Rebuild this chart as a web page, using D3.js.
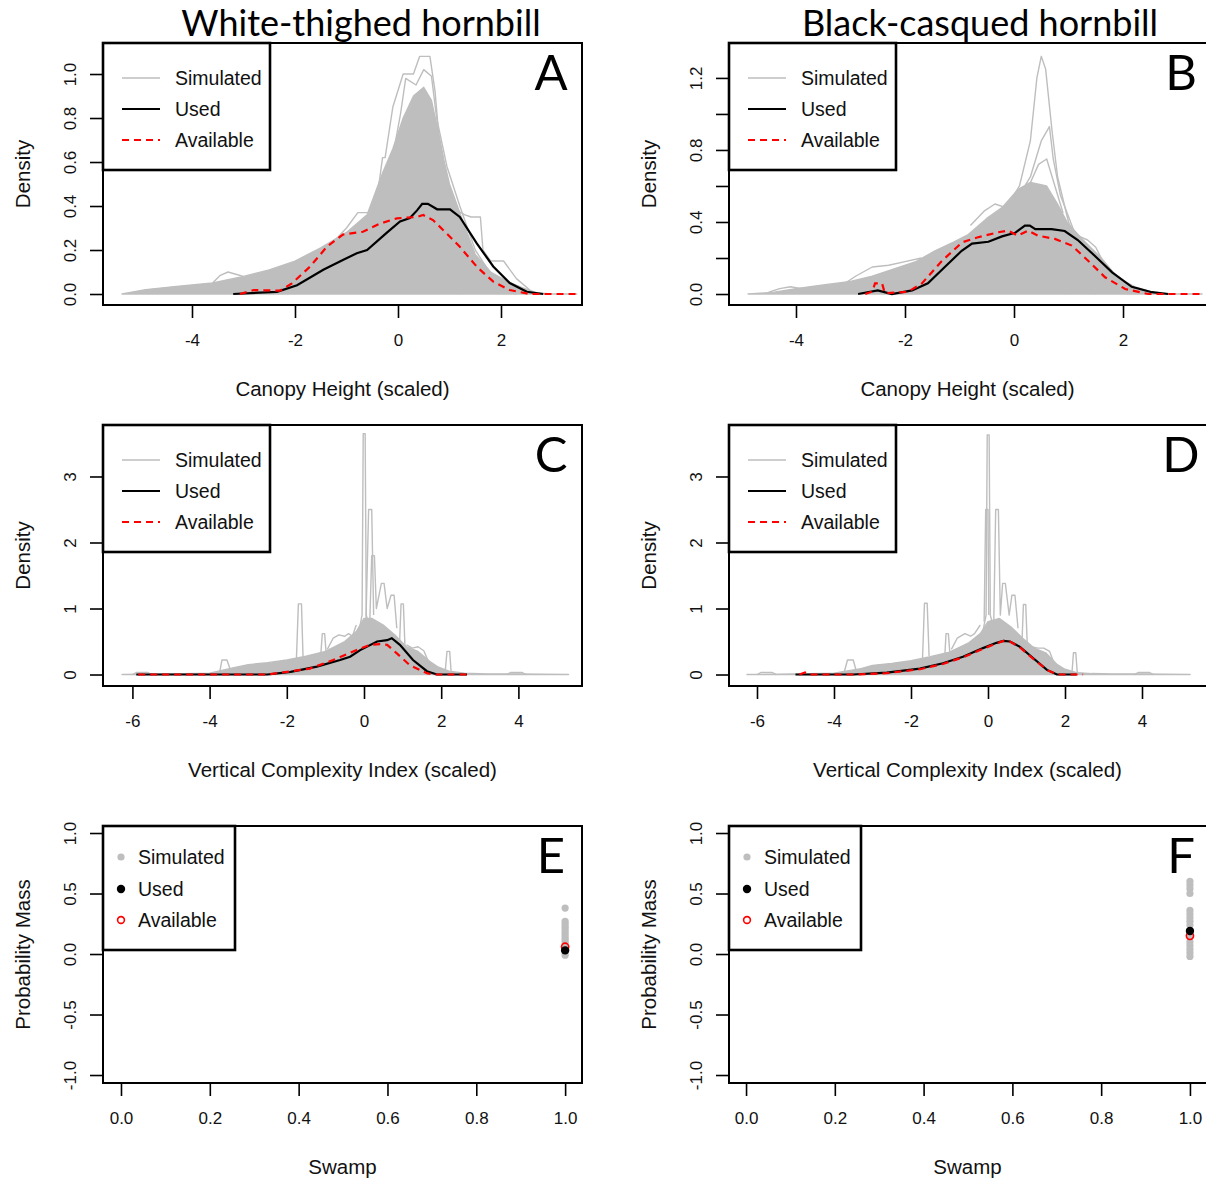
<!DOCTYPE html>
<html>
<head>
<meta charset="utf-8">
<script src="https://cdn.jsdelivr.net/npm/d3@7"></script>
<style>
  body { margin: 0; background: #fff; }
  text { font-family: "Liberation Sans", Arial, sans-serif; fill: #111; }
  .big { font-family: Lato, "Open Sans", sans-serif; fill: #000; }
</style>
</head>
<body>
<svg id="fig" width="1206" height="1181"></svg>
<script>
// ---- tick values ----
var canopyTicks = [-4, -2, 0, 2];
var vciTicks = [-6, -4, -2, 0, 2, 4];
var swampTicks = [0, 0.2, 0.4, 0.6, 0.8, 1.0];
var densWT_yTicks = [0, 0.2, 0.4, 0.6, 0.8, 1.0];
var densBC_yTicks = [0, 0.2, 0.4, 0.6, 0.8, 1.0, 1.2];
var densBC_yLabels = [0, 0.4, 0.8, 1.2];
var vciY_ticks = [0, 1, 2, 3];
var massTicks = [-1, -0.5, 0, 0.5, 1];

var speciesNames = ['White-thighed hornbill', 'Black-casqued hornbill'];
var legendNames = ['Simulated', 'Used', 'Available'];

// ---- A: canopy height, white-thighed ----
var canopyWT_simX  = [-5.36, -4.9, -4.3, -3.6, -3.0, -2.5, -2.0, -1.5, -1.0, -0.6, -0.3, -0.1, 0.1, 0.3, 0.5, 0.65, 0.8, 0.9, 1.0, 1.2, 1.5, 1.8, 2.1, 2.4, 2.7, 3.0, 3.47];
var canopyWT_simHi = [0, 0.02, 0.035, 0.05, 0.08, 0.11, 0.15, 0.21, 0.28, 0.36, 0.55, 0.66, 0.8, 0.9, 0.94, 0.88, 0.72, 0.6, 0.5, 0.37, 0.18, 0.1, 0.06, 0.03, 0.005, 0, 0];
var canopyWT_simLines = [
  [[-0.45,0.36],[-0.3,0.62],[-0.25,0.62],[-0.1,0.85],[0.1,1.0],[0.3,1.0],[0.42,1.08],[0.62,1.08],[0.72,0.92],[0.8,0.7],[0.9,0.55],[1.1,0.4],[1.3,0.25],[1.6,0.1],[1.9,0.03],[2.3,0]],
  [[-0.2,0.5],[0.05,0.82],[0.15,0.98],[0.35,0.95],[0.5,1.02],[0.65,0.99],[0.75,0.8],[0.95,0.58],[1.2,0.4],[1.5,0.2],[2.0,0.02]],
  [[-1.4,0.2],[-1.0,0.3],[-0.78,0.37],[-0.42,0.37],[-0.3,0.33],[0.0,0.3]],
  [[-3.6,0.05],[-3.45,0.085],[-3.3,0.1],[-3.15,0.09],[-3.0,0.08]],
  [[1.0,0.4],[1.3,0.36],[1.42,0.35],[1.6,0.35],[1.65,0.2],[1.8,0.15],[2.05,0.15],[2.3,0.07],[2.6,0.01]],
  [[0.55,0.3],[0.7,0.2],[0.9,0.08],[1.05,0.02],[1.2,0]]
];
var canopyWT_usedX = [-3.2, -2.35, -1.96, -1.45, -1.07, -0.8, -0.6, -0.21, 0.04, 0.23, 0.37, 0.47, 0.58, 0.76, 1.01, 1.2, 1.53, 1.85, 2.17, 2.5, 2.82];
var canopyWT_usedY = [0, 0.01, 0.04, 0.11, 0.155, 0.185, 0.2, 0.28, 0.33, 0.345, 0.38, 0.41, 0.41, 0.385, 0.385, 0.35, 0.23, 0.125, 0.05, 0.01, 0];
var canopyWT_availX = [-3.07, -2.8, -2.29, -2.06, -1.71, -1.38, -1.07, -0.68, -0.35, -0.02, 0.37, 0.49, 0.68, 0.88, 1.2, 1.53, 1.85, 2.17, 2.56, 3.47];
var canopyWT_availY = [0, 0.018, 0.015, 0.048, 0.124, 0.215, 0.27, 0.283, 0.32, 0.344, 0.35, 0.359, 0.336, 0.29, 0.215, 0.124, 0.056, 0.018, 0, 0];

// ---- B: canopy height, black-casqued ----
var canopyBC_simX  = [-4.88, -4.4, -4.0, -3.5, -3.0, -2.6, -2.2, -1.8, -1.45, -1.1, -0.84, -0.5, -0.22, 0.07, 0.3, 0.6, 0.8, 0.99, 1.3, 1.6, 1.91, 2.22, 2.6, 3.0, 3.45];
var canopyBC_simHi = [0, 0.01, 0.03, 0.05, 0.07, 0.1, 0.14, 0.18, 0.24, 0.29, 0.33, 0.42, 0.48, 0.58, 0.62, 0.6, 0.5, 0.39, 0.29, 0.2, 0.09, 0.04, 0.005, 0, 0];
var canopyBC_simLines = [
  [[-0.2,0.45],[0.1,0.6],[0.3,0.85],[0.42,1.2],[0.5,1.32],[0.58,1.25],[0.7,0.9],[0.8,0.65],[1.0,0.4],[1.3,0.2],[1.7,0.06],[2.1,0]],
  [[0.0,0.5],[0.3,0.65],[0.5,0.85],[0.65,0.93],[0.72,0.75],[0.85,0.55],[1.1,0.35]],
  [[0.2,0.55],[0.45,0.72],[0.6,0.75],[0.75,0.6],[0.9,0.45]],
  [[-0.8,0.38],[-0.55,0.46],[-0.35,0.5],[-0.15,0.48],[0.0,0.5]],
  [[-3.2,0.04],[-2.9,0.1],[-2.6,0.15],[-2.3,0.16],[-2.0,0.18],[-1.7,0.2]],
  [[-4.5,0.01],[-4.3,0.03],[-4.1,0.04],[-3.9,0.03],[-3.7,0.02]],
  [[1.0,0.38],[1.2,0.32],[1.35,0.3],[1.5,0.26],[1.7,0.14]],
  [[0.4,0.35],[0.6,0.25],[0.75,0.12],[0.85,0.02],[0.95,0]],
  [[0.7,0.3],[1.0,0.15],[1.3,0.05],[1.5,0]]
];
var canopyBC_usedX = [-2.86, -2.5, -2.24, -1.87, -1.58, -1.27, -0.96, -0.77, -0.47, -0.22, 0.02, 0.2, 0.29, 0.39, 0.69, 0.93, 1.17, 1.49, 1.8, 2.16, 2.53, 2.83];
var canopyBC_usedY = [0, 0.02, 0.0, 0.02, 0.06, 0.15, 0.24, 0.28, 0.29, 0.32, 0.34, 0.38, 0.38, 0.36, 0.36, 0.35, 0.3, 0.21, 0.12, 0.04, 0.01, 0];
var canopyBC_availX = [-2.73, -2.6, -2.55, -2.42, -2.37, -1.94, -1.69, -1.32, -0.95, -0.66, -0.29, -0.11, 0.07, 0.26, 0.44, 0.75, 1.06, 1.36, 1.67, 2.04, 2.46, 3.45];
var canopyBC_availY = [0, 0.013, 0.059, 0.059, 0.004, 0.013, 0.059, 0.185, 0.287, 0.315, 0.343, 0.352, 0.324, 0.352, 0.324, 0.306, 0.269, 0.185, 0.093, 0.028, 0, 0];

// ---- C: vertical complexity, white-thighed ----
var vciWT_simX  = [-6.27, -5.0, -4.0, -3.4, -3.0, -2.5, -2.0, -1.5, -1.0, -0.5, -0.2, 0.0, 0.2, 0.5, 0.8, 1.1, 1.4, 1.7, 1.9, 2.2, 2.6, 3.2, 4.0, 5.3];
var vciWT_simHi = [0, 0.01, 0.02, 0.1, 0.15, 0.18, 0.22, 0.28, 0.35, 0.5, 0.65, 0.85, 0.85, 0.75, 0.6, 0.42, 0.35, 0.2, 0.12, 0.05, 0.02, 0.01, 0.01, 0];
var vciWT_simLines = [
  [[-0.15,0.6],[-0.05,0.9],[-0.02,3.65],[0.03,3.65],[0.06,0.9],[0.15,0.7]],
  [[0.05,0.8],[0.12,2.5],[0.2,2.5],[0.25,0.9]],
  [[0.15,0.8],[0.2,1.8],[0.27,1.8],[0.32,1.0],[0.45,1.38],[0.52,1.38],[0.6,1.0],[0.7,1.2],[0.78,1.2],[0.85,0.7]],
  [[-1.75,0.25],[-1.7,1.07],[-1.62,1.07],[-1.58,0.28]],
  [[-1.12,0.3],[-1.08,0.62],[-1.02,0.62],[-0.98,0.32]],
  [[-0.95,0.38],[-0.8,0.55],[-0.65,0.6],[-0.5,0.58],[-0.4,0.62],[-0.3,0.58],[-0.2,0.75]],
  [[0.92,0.45],[0.96,1.07],[1.02,1.07],[1.06,0.45]],
  [[-3.75,0.0],[-3.68,0.22],[-3.55,0.22],[-3.45,0.05]],
  [[2.1,0.02],[2.15,0.35],[2.22,0.35],[2.26,0.02]],
  [[1.1,0.45],[1.25,0.4],[1.4,0.42],[1.55,0.36],[1.7,0.15]],
  [[3.7,0.0],[3.8,0.03],[4.1,0.03],[4.2,0.0]],
  [[-6.0,0.0],[-5.9,0.03],[-5.6,0.03],[-5.5,0.0]]
];
var vciWT_usedX = [-5.9, -2.5, -1.9, -1.22, -0.62, -0.36, -0.1, 0.34, 0.6, 0.72, 0.93, 1.27, 1.63, 1.89, 2.67];
var vciWT_usedY = [0, 0, 0.04, 0.12, 0.22, 0.27, 0.37, 0.5, 0.52, 0.55, 0.45, 0.22, 0.05, 0, 0];
var vciWT_availX = [-5.85, -2.5, -2.0, -1.4, -0.8, -0.28, 0.16, 0.41, 0.6, 0.85, 1.19, 1.63, 1.79, 2.67];
var vciWT_availY = [0, 0, 0.04, 0.09, 0.22, 0.35, 0.45, 0.46, 0.45, 0.32, 0.14, 0.02, 0, 0];

// ---- D: vertical complexity, black-casqued ----
var vciBC_simX  = [-6.26, -5.0, -4.0, -3.3, -3.0, -2.5, -2.0, -1.5, -1.0, -0.5, -0.2, 0.0, 0.3, 0.6, 0.9, 1.2, 1.5, 1.8, 2.0, 2.3, 2.7, 3.2, 4.0, 5.25];
var vciBC_simHi = [0, 0.01, 0.02, 0.09, 0.14, 0.17, 0.21, 0.27, 0.34, 0.48, 0.62, 0.8, 0.85, 0.72, 0.55, 0.4, 0.33, 0.15, 0.08, 0.03, 0.015, 0.01, 0.01, 0];
var vciBC_simLines = [
  [[-0.15,0.6],[-0.05,0.9],[-0.02,3.63],[0.03,3.63],[0.06,0.9],[0.15,0.7]],
  [[-0.1,0.8],[-0.06,2.5],[0.0,2.5],[0.02,0.9]],
  [[0.15,0.8],[0.2,2.5],[0.27,2.5],[0.32,0.9],[0.38,1.38],[0.45,1.38],[0.55,0.9],[0.62,1.2],[0.7,1.2],[0.78,0.7]],
  [[-1.7,0.25],[-1.65,1.08],[-1.58,1.08],[-1.53,0.28]],
  [[-1.12,0.3],[-1.09,0.62],[-1.03,0.62],[-0.99,0.32]],
  [[-0.95,0.38],[-0.8,0.55],[-0.6,0.62],[-0.45,0.58],[-0.35,0.62],[-0.2,0.75]],
  [[0.88,0.45],[0.92,1.06],[0.98,1.06],[1.02,0.45]],
  [[-3.75,0.0],[-3.65,0.22],[-3.5,0.22],[-3.42,0.05]],
  [[2.18,0.02],[2.22,0.33],[2.28,0.33],[2.32,0.02]],
  [[1.1,0.42],[1.3,0.4],[1.45,0.4],[1.6,0.35],[1.75,0.12]],
  [[3.8,0.0],[3.9,0.03],[4.2,0.03],[4.3,0.0]],
  [[-6.0,0.0],[-5.9,0.03],[-5.6,0.03],[-5.5,0.0]]
];
var vciBC_usedX = [-5.0, -3.5, -2.63, -1.77, -1.17, -0.65, -0.13, 0.22, 0.4, 0.57, 0.83, 1.17, 1.53, 1.79, 2.3];
var vciBC_usedY = [0, 0, 0.03, 0.09, 0.17, 0.27, 0.4, 0.48, 0.51, 0.5, 0.42, 0.25, 0.07, 0, 0];
var vciBC_availX = [-4.9, -4.75, -4.65, -4.5, -3.5, -2.63, -1.77, -1.17, -0.65, -0.13, 0.22, 0.4, 0.57, 0.83, 1.17, 1.53, 1.79, 2.47];
var vciBC_availY = [0, 0.03, 0, 0, 0, 0.02, 0.08, 0.16, 0.26, 0.39, 0.47, 0.51, 0.5, 0.41, 0.24, 0.07, 0, 0];

// ---- E / F: swamp probability mass (all at swamp = 1) ----
var swampWT_sim = [0.38, 0.27, 0.25, 0.23, 0.21, 0.19, 0.17, 0.15, 0.13, 0.11, 0.09, 0.07, 0.05, 0.03, 0.01, -0.01];
var swampWT_used = 0.03;
var swampWT_avail = 0.06;
var swampBC_sim = [0.6, 0.57, 0.54, 0.5, 0.36, 0.33, 0.3, 0.27, 0.24, 0.2, 0.17, 0.14, 0.1, 0.07, 0.04, 0.01, -0.02];
var swampBC_used = 0.19;
var swampBC_avail = 0.15;

var GRAY = '#bebebe';
var svg = d3.select('#fig');

function zip(a, b){ return a.map(function(v, i){ return [v, b[i]]; }); }
function fmt1(d){ return d.toFixed(1); }
function fmt0(d){ return String(d); }

function drawPanel(p){
  var x = d3.scaleLinear().domain(p.xDom).range([p.left, p.right]);
  var y = d3.scaleLinear().domain(p.yDom).range([p.bottom, p.top]);

  svg.append('clipPath').attr('id', 'clip' + p.id)
     .append('rect')
       .attr('x', p.left).attr('y', p.top)
       .attr('width', p.right - p.left).attr('height', p.bottom - p.top);
  var plot = svg.append('g').attr('clip-path', 'url(#clip' + p.id + ')');

  var line = d3.line().x(function(d){ return x(d[0]); }).y(function(d){ return y(d[1]); });

  if (p.simX){
    plot.append('path')
      .datum(zip(p.simX, p.simHi))
      .attr('d', d3.area().x(function(d){ return x(d[0]); }).y0(y(0)).y1(function(d){ return y(d[1]); }))
      .attr('fill', GRAY).attr('stroke', GRAY).attr('stroke-width', 1.3)
      .attr('stroke-linejoin', 'round');
    plot.selectAll('path.sim')
      .data(p.simLines)
      .enter()
      .append('path')
        .attr('class', 'sim')
        .attr('d', line)
        .attr('fill', 'none').attr('stroke', GRAY).attr('stroke-width', 1.4)
        .attr('stroke-linejoin', 'round');
    plot.append('path').datum(zip(p.usedX, p.usedY)).attr('d', line)
      .attr('fill', 'none').attr('stroke', '#000').attr('stroke-width', 2.2);
    plot.append('path').datum(zip(p.availX, p.availY)).attr('d', line)
      .attr('fill', 'none').attr('stroke', '#ff0000').attr('stroke-width', 2.2)
      .attr('stroke-dasharray', '7,5');
  } else {
    plot.selectAll('circle.sim')
      .data(p.simPts)
      .enter()
      .append('circle')
        .attr('class', 'sim')
        .attr('cx', x(1)).attr('cy', function(d){ return y(d); })
        .attr('r', 3.6).attr('fill', GRAY);
    plot.append('circle').attr('cx', x(1)).attr('cy', y(p.availPt))
      .attr('r', 3.6).attr('fill', 'none').attr('stroke', '#ff0000').attr('stroke-width', 1.6);
    plot.append('circle').attr('cx', x(1)).attr('cy', y(p.usedPt))
      .attr('r', 4.2).attr('fill', '#000');
  }

  // plot box
  svg.append('rect')
    .attr('x', p.left).attr('y', p.top)
    .attr('width', p.right - p.left).attr('height', p.bottom - p.top)
    .attr('fill', 'none').attr('stroke', '#000').attr('stroke-width', 2);

  // x axis
  var xa = svg.append('g')
    .attr('transform', 'translate(0,' + (p.bottom + 1) + ')')
    .call(d3.axisBottom(x).tickValues(p.xTicks).tickSize(12).tickPadding(16).tickFormat(p.xFmt));
  xa.select('.domain').remove();
  xa.selectAll('line').attr('stroke', '#000').attr('stroke-width', 1.6);
  xa.selectAll('text').attr('font-size', 17).attr('font-family', '"Liberation Sans", Arial, sans-serif').attr('fill', '#111');

  // y axis, labels rotated like R
  var ya = svg.append('g')
    .attr('transform', 'translate(' + p.left + ',0)')
    .call(d3.axisLeft(y).tickValues(p.yTicks).tickSize(13).tickFormat(function(d){
      return p.yLabels.indexOf(d) >= 0 ? p.yFmt(d) : '';
    }));
  ya.select('.domain').remove();
  ya.selectAll('line').attr('stroke', '#000').attr('stroke-width', 1.6);
  ya.selectAll('text')
    .attr('x', 0).attr('dy', 0).attr('y', 0)
    .attr('transform', 'translate(-27,0) rotate(-90)')
    .attr('text-anchor', 'middle')
    .attr('font-size', 17).attr('font-family', '"Liberation Sans", Arial, sans-serif').attr('fill', '#111');

  // axis titles
  svg.append('text')
    .attr('x', (p.left + p.titleRight) / 2).attr('y', p.bottom + 91)
    .attr('text-anchor', 'middle').attr('font-size', 20.5)
    .text(p.xTitle);
  svg.append('text')
    .attr('transform', 'translate(' + (p.left - 73) + ',' + ((p.top + p.bottom) / 2) + ') rotate(-90)')
    .attr('text-anchor', 'middle').attr('font-size', 20.5)
    .text(p.yTitle);

  // panel letter
  svg.append('text').attr('class', 'big')
    .attr('x', p.letterX).attr('y', p.top + 47)
    .attr('text-anchor', 'middle').attr('font-size', 49)
    .text(p.letter);

  // legend
  var lg = svg.append('g').attr('transform', 'translate(' + p.left + ',' + p.top + ')');
  var lw = p.simX ? 167 : 132;
  var lh = p.simX ? 127 : 124;
  lg.append('rect').attr('x', 0).attr('y', 0).attr('width', lw).attr('height', lh)
    .attr('fill', '#fff').attr('stroke', '#000').attr('stroke-width', 2.6);
  var rows = p.simX ? [35, 66, 97] : [31, 63, 94];
  var tx = p.simX ? 72 : 35;
  lg.selectAll('text.lab')
    .data(legendNames)
    .enter()
    .append('text')
      .attr('class', 'lab')
      .attr('x', tx).attr('y', function(d, i){ return rows[i] + 7; })
      .attr('font-size', 19.5)
      .text(function(d){ return d; });
  if (p.simX){
    var sty = [[GRAY, 1.4, null], ['#000', 1.8, null], ['#ff0000', 1.8, '7,5']];
    sty.forEach(function(s, i){
      lg.append('line').attr('x1', 19).attr('x2', 57).attr('y1', rows[i]).attr('y2', rows[i])
        .attr('stroke', s[0]).attr('stroke-width', s[1]).attr('stroke-dasharray', s[2]);
    });
  } else {
    lg.append('circle').attr('cx', 18).attr('cy', rows[0]).attr('r', 3.6).attr('fill', GRAY);
    lg.append('circle').attr('cx', 18).attr('cy', rows[1]).attr('r', 4.2).attr('fill', '#000');
    lg.append('circle').attr('cx', 18).attr('cy', rows[2]).attr('r', 3.4).attr('fill', 'none')
      .attr('stroke', '#ff0000').attr('stroke-width', 1.6);
  }
}

var L = { left: 103, right: 582, titleRight: 582, letterX: 551 };
var R = { left: 729, right: 1216, titleRight: 1206, letterX: 1181 };

var panels = [
  Object.assign({}, L, { id: 'A', top: 43, bottom: 305, xDom: [-5.728, 3.573], yDom: [-0.05, 1.141],
    xTicks: canopyTicks, xFmt: fmt0, yTicks: densWT_yTicks, yLabels: densWT_yTicks, yFmt: fmt1,
    xTitle: 'Canopy Height (scaled)', yTitle: 'Density', letter: 'A',
    simX: canopyWT_simX, simHi: canopyWT_simHi, simLines: canopyWT_simLines,
    usedX: canopyWT_usedX, usedY: canopyWT_usedY, availX: canopyWT_availX, availY: canopyWT_availY }),
  Object.assign({}, R, { id: 'B', top: 43, bottom: 305, xDom: [-5.229, 3.706], yDom: [-0.061, 1.394],
    xTicks: canopyTicks, xFmt: fmt0, yTicks: densBC_yTicks, yLabels: densBC_yLabels, yFmt: fmt1,
    xTitle: 'Canopy Height (scaled)', yTitle: 'Density', letter: 'B',
    simX: canopyBC_simX, simHi: canopyBC_simHi, simLines: canopyBC_simLines,
    usedX: canopyBC_usedX, usedY: canopyBC_usedY, availX: canopyBC_availX, availY: canopyBC_availY }),
  Object.assign({}, L, { id: 'C', top: 425, bottom: 686, xDom: [-6.762, 5.648], yDom: [-0.174, 3.78],
    xTicks: vciTicks, xFmt: fmt0, yTicks: vciY_ticks, yLabels: vciY_ticks, yFmt: fmt0,
    xTitle: 'Vertical Complexity Index (scaled)', yTitle: 'Density', letter: 'C',
    simX: vciWT_simX, simHi: vciWT_simHi, simLines: vciWT_simLines,
    usedX: vciWT_usedX, usedY: vciWT_usedY, availX: vciWT_availX, availY: vciWT_availY }),
  Object.assign({}, R, { id: 'D', top: 425, bottom: 686, xDom: [-6.727, 5.922], yDom: [-0.174, 3.78],
    xTicks: vciTicks, xFmt: fmt0, yTicks: vciY_ticks, yLabels: vciY_ticks, yFmt: fmt0,
    xTitle: 'Vertical Complexity Index (scaled)', yTitle: 'Density', letter: 'D',
    simX: vciBC_simX, simHi: vciBC_simHi, simLines: vciBC_simLines,
    usedX: vciBC_usedX, usedY: vciBC_usedY, availX: vciBC_availX, availY: vciBC_availY }),
  Object.assign({}, L, { id: 'E', top: 826, bottom: 1083, xDom: [-0.0405, 1.038], yDom: [-1.066, 1.058],
    xTicks: swampTicks, xFmt: fmt1, yTicks: massTicks, yLabels: massTicks, yFmt: fmt1,
    xTitle: 'Swamp', yTitle: 'Probability Mass', letter: 'E',
    simPts: swampWT_sim, usedPt: swampWT_used, availPt: swampWT_avail }),
  Object.assign({}, R, { id: 'F', top: 826, bottom: 1083, xDom: [-0.0384, 1.0587], yDom: [-1.066, 1.058],
    xTicks: swampTicks, xFmt: fmt1, yTicks: massTicks, yLabels: massTicks, yFmt: fmt1,
    xTitle: 'Swamp', yTitle: 'Probability Mass', letter: 'F',
    simPts: swampBC_sim, usedPt: swampBC_used, availPt: swampBC_avail })
];

panels.forEach(drawPanel);

// column titles
svg.selectAll('text.sp')
  .data(speciesNames)
  .enter()
  .append('text')
    .attr('class', 'sp big')
    .attr('x', function(d, i){ return i === 0 ? 361 : 980; })
    .attr('y', 36)
    .attr('text-anchor', 'middle')
    .attr('font-size', 36)
    .text(function(d){ return d; });
</script>
</body>
</html>
